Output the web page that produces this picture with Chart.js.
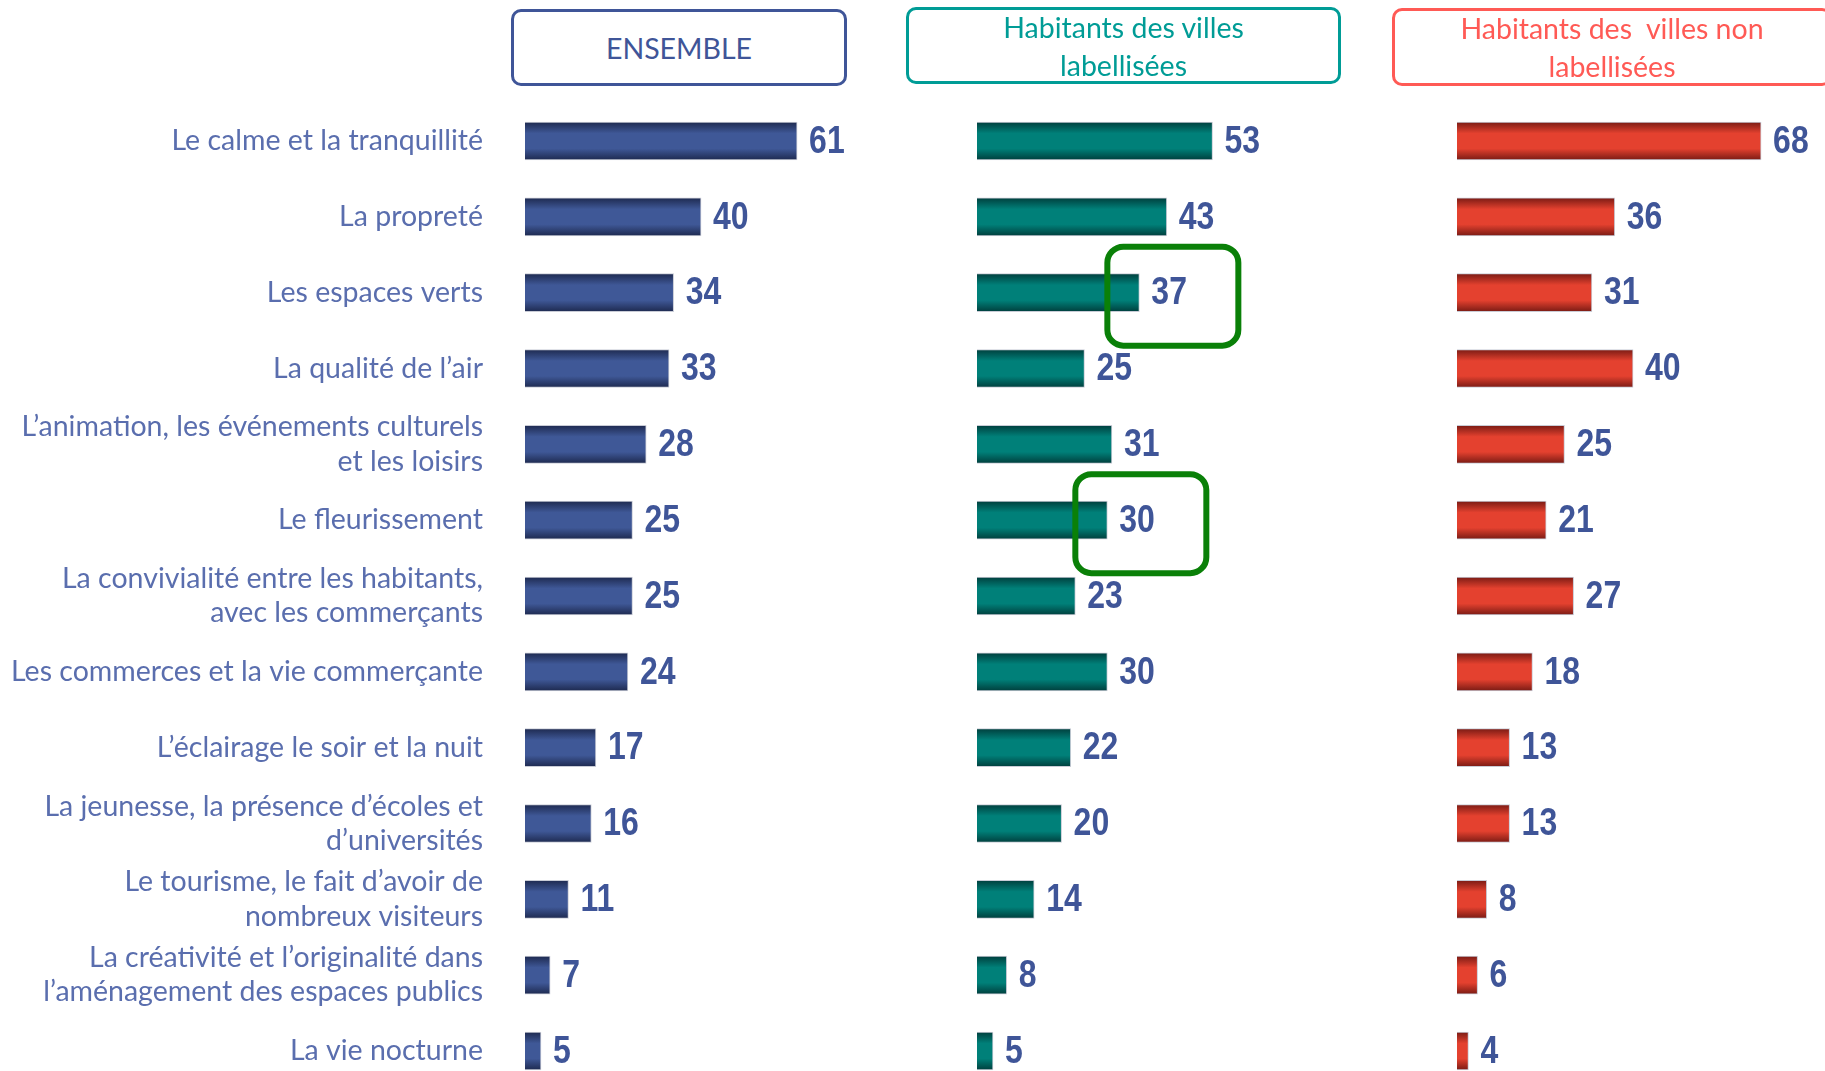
<!DOCTYPE html>
<html>
<head>
<meta charset="utf-8">
<script src="https://cdn.jsdelivr.net/npm/chart.js@4/dist/chart.umd.min.js"></script>
<style>
  body { margin: 0; background: #fff; width: 1825px; height: 1071px; overflow: hidden; position: relative; }
  canvas { position: absolute; top: 0; }
  .head { position: absolute; box-sizing: border-box; border: 3px solid; border-radius: 10px;
          font-family: Lato, "Open Sans", sans-serif; font-size: 28.5px; line-height: 38px;
          text-align: center; display: flex; align-items: center; justify-content: center; background: #fff; }
</style>
</head>
<body>
<canvas id="c1" width="884" height="1071" style="left:0"></canvas>
<canvas id="c2" width="452" height="1071" style="left:884px"></canvas>
<canvas id="c3" width="489" height="1071" style="left:1336px"></canvas>

<div class="head" style="left:511px;top:9px;width:336px;height:77px;border-color:#3f5598;color:#3f5598">ENSEMBLE</div>
<div class="head" style="left:906px;top:7px;width:435px;height:77px;border-color:#009c96;color:#009c96">Habitants des villes<br>labellisées</div>
<div class="head" style="left:1392px;top:8px;width:440px;height:78px;border-color:#ff5a55;color:#ff5a55">Habitants des &nbsp;villes non<br>labellisées</div>

<script>
const categories = [
  "Le calme et la tranquillité",
  "La propreté",
  "Les espaces verts",
  "La qualité de l’air",
  ["L’animation, les événements culturels", "et les loisirs"],
  "Le fleurissement",
  ["La convivialité entre les habitants,", "avec les commerçants"],
  "Les commerces et la vie commerçante",
  "L’éclairage le soir et la nuit",
  ["La jeunesse, la présence d’écoles et", "d’universités"],
  ["Le tourisme, le fait d’avoir de", "nombreux visiteurs"],
  ["La créativité et l’originalité dans", "l’aménagement des espaces publics"],
  "La vie nocturne"
];
const ensemble = [61, 40, 34, 33, 28, 25, 25, 24, 17, 16, 11, 7, 5];
const labellisees = [53, 43, 37, 25, 31, 30, 23, 30, 22, 20, 14, 8, 5];
const nonLabellisees = [68, 36, 31, 40, 25, 21, 27, 18, 13, 13, 8, 6, 4];
const highlighted = [2, 5]; // rows circled in green (labellisées)

function barGrad(dark, mid) {
  return (ctx) => {
    const y = ctx.chart.scales.y;
    if (!y || ctx.type !== 'data') return mid;
    const c = y.getPixelForValue(ctx.dataIndex);
    if (!Number.isFinite(c)) return mid;
    const g = ctx.chart.ctx.createLinearGradient(0, c - 19, 0, c + 19);
    g.addColorStop(0, dark);
    g.addColorStop(0.3, mid);
    g.addColorStop(0.7, mid);
    g.addColorStop(1, dark);
    return g;
  };
}

const valueLabels = {
  id: 'valueLabels',
  afterDatasetsDraw(chart) {
    const ctx = chart.ctx;
    const meta = chart.getDatasetMeta(0);
    meta.data.forEach((el, i) => {
      ctx.save();
      ctx.font = 'bold 39px "Liberation Sans", Arial, sans-serif';
      ctx.fillStyle = '#3f5598';
      ctx.textBaseline = 'middle';
      ctx.textAlign = 'left';
      ctx.translate(el.x + 12, el.y + 1);
      ctx.scale(0.82, 1);
      ctx.fillText(chart.data.datasets[0].data[i], 0, 0);
      ctx.restore();
    });
  }
};

const greenBoxes = {
  id: 'greenBoxes',
  afterDatasetsDraw(chart, args, opts) {
    if (!opts.rows) return;
    const ctx = chart.ctx;
    const meta = chart.getDatasetMeta(0);
    ctx.save();
    ctx.strokeStyle = '#0a8008';
    ctx.lineWidth = 6;
    opts.rows.forEach(i => {
      const el = meta.data[i];
      ctx.beginPath();
      ctx.roundRect(el.x - 32, el.y - 46, 131, 99, 16);
      ctx.stroke();
    });
    ctx.restore();
  }
};

function makeChart(id, data, dark, mid, padLeft, padRight, showLabels, rows) {
  const chart = new Chart(document.getElementById(id), {
    type: 'bar',
    data: {
      labels: categories,
      datasets: [{
        data: data,
        backgroundColor: barGrad(dark, mid),
        borderColor: '#c9ccd6',
        borderWidth: 1,
        borderSkipped: false,
        barThickness: 38,
        clip: { left: 0, top: false, right: false, bottom: false }
      }]
    },
    options: {
      indexAxis: 'y',
      responsive: false,
      animation: false,
      layout: { autoPadding: false, padding: { top: 141, bottom: 20, left: padLeft, right: padRight } },
      plugins: {
        legend: { display: false },
        tooltip: { enabled: false },
        greenBoxes: { rows: rows }
      },
      scales: {
        x: { display: false, min: 1.5, max: 80 },
        y: {
          display: showLabels,
          offset: false,
          grid: { display: false, drawTicks: false },
          border: { display: false },
          ticks: {
            padding: 42,
            color: '#5a6eae',
            font: { family: 'Lato, "Open Sans", sans-serif', size: 28.5 }
          },
          afterFit: (s) => {
            if (!showLabels) return;
            s.width = 525;
            s.paddingTop = 0;
            s.paddingBottom = 0;
          }
        }
      }
    },
    plugins: [valueLabels, greenBoxes]
  });
  chart.update();
  return chart;
}

makeChart('c1', ensemble, '#1e2a50', '#3f5897', 0, 0, true, null);
makeChart('c2', labellisees, '#003f3d', '#008079', 93, 0, false, highlighted);
makeChart('c3', nonLabellisees, '#7a1b14', '#e4412f', 121, 9, false, null);
</script>
</body>
</html>
